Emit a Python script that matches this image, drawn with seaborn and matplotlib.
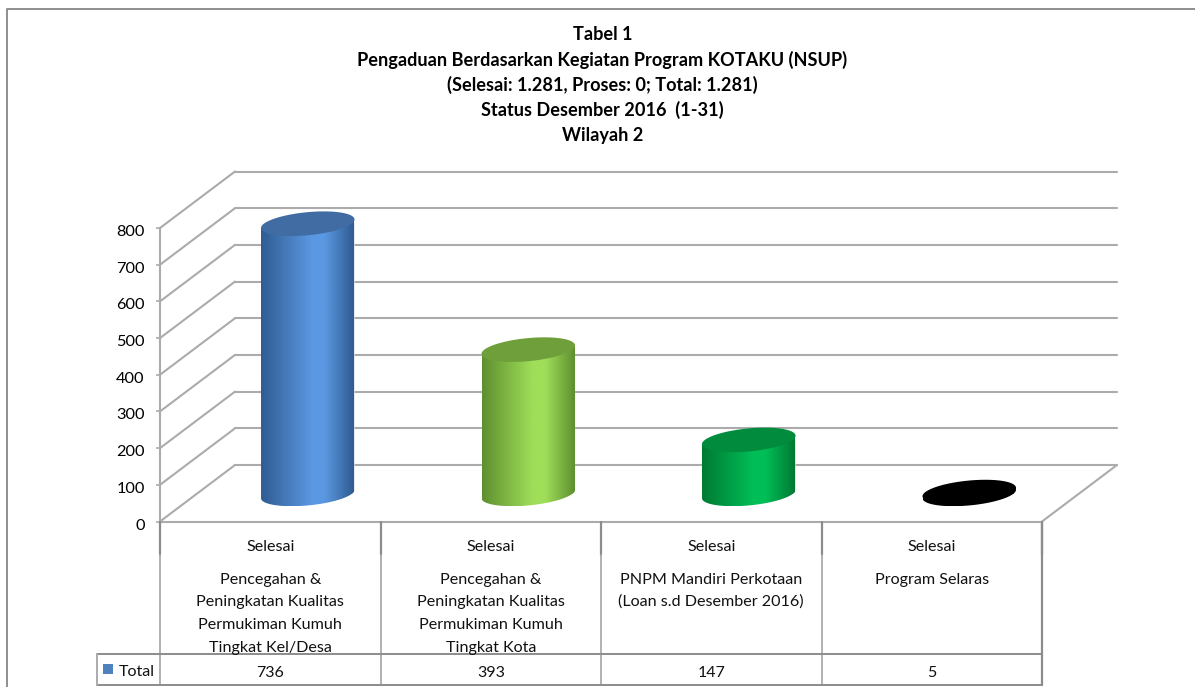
import matplotlib
matplotlib.use("Agg")
import matplotlib.pyplot as plt
from matplotlib.colors import LinearSegmentedColormap
from matplotlib.lines import Line2D
from matplotlib.patches import ConnectionPatch, Polygon, Rectangle
from matplotlib.transforms import ScaledTranslation
import numpy as np
import pandas as pd
import seaborn as sns

title_lines = ["Tabel 1",
               "Pengaduan Berdasarkan Kegiatan Program KOTAKU (NSUP)",
               "(Selesai: 1.281, Proses: 0; Total: 1.281)",
               "Status Desember 2016  (1-31)",
               "Wilayah 2"]
categories = ["Pencegahan & Tingkat Kel/Desa", "Pencegahan & Tingkat Kota",
              "PNPM Mandiri Perkotaan", "Program Selaras"]
status_labels = ["Selesai", "Selesai", "Selesai", "Selesai"]
table_labels = [["Pencegahan &", "Peningkatan Kualitas", "Permukiman Kumuh", "Tingkat Kel/Desa"],
                ["Pencegahan &", "Peningkatan Kualitas", "Permukiman Kumuh", "Tingkat Kota"],
                ["PNPM Mandiri Perkotaan", "(Loan s.d Desember 2016)"],
                ["Program Selaras"]]
totals = [736, 393, 147, 5]
y_ticks = [0, 100, 200, 300, 400, 500, 600, 700, 800]
top_colors = ["#416CA3", "#6F9F3A", "#008C3C", "#000000"]
edge_colors = ["#2F5C92", "#5F8F30", "#007A33", "#000000"]
light_colors = ["#5B98E2", "#9FDE59", "#00BE57", "#000000"]

W, H = 1195, 687
GRID = "#ABABAB"
LINE = "#8C8C8C"
sns.set_theme(style="white")
plt.rcParams["font.family"] = ["Lato", "DejaVu Sans"]


def add_axes_px(fig, left, right, top, bottom, zorder):
    """ Axes placed by reference pixels """
    ax = fig.add_axes([left / W, 1 - bottom / H, (right - left) / W, (bottom - top) / H])
    ax.set_zorder(zorder)
    ax.patch.set_alpha(0)
    return ax


def ellipse_px(n=80):
    """ Tilted ellipse outline of a cylinder end, pixel offsets from its centre """
    t = np.linspace(0, 2 * np.pi, n)
    a, b, tilt = 47.0, 11.5, np.deg2rad(5.5)
    dx = a * np.cos(t) * np.cos(tilt) - b * np.sin(t) * np.sin(tilt)
    dy = -(a * np.cos(t) * np.sin(tilt) + b * np.sin(t) * np.cos(tilt))
    return t, dx, dy


df = pd.DataFrame({"kategori": categories, "total": totals})
fig = plt.figure(figsize=(W / 100, H / 100), dpi=100, facecolor="white")

# chart frame
fig.add_artist(Line2D([7 / W, 7 / W, 1], [0, 1 - 9 / H, 1 - 9 / H],
                      color="#8E8E8E", lw=1.4))

# back wall
back = add_axes_px(fig, 235, 1117, 171.5, 465, 1)
back.set_xlim(-0.5, 3.5)
back.set_ylim(0, 800)
back.set_yticks(y_ticks)
back.set_xticks([])
back.set_yticklabels([])
back.grid(axis="y", color=GRID, lw=1.5, clip_on=False)
back.tick_params(left=False)
sns.despine(ax=back, left=True, bottom=True)
for gridline in back.get_ygridlines():
    gridline.set_clip_on(False)

# front plane with the value axis
front = add_axes_px(fig, 160, 1042, 228, 521.5, 3)
front.set_xlim(-0.5, 3.5)
front.set_ylim(0, 800)
front.set_yticks(y_ticks)
front.set_xticks([])
front.tick_params(axis="y", left=True, length=3, width=1.2, color=GRID, pad=8,
                  labelsize=11.8, labelcolor="black")
for label in front.get_yticklabels():
    label.set_transform(label.get_transform() + ScaledTranslation(0, -2.5 / 100, fig.dpi_scale_trans))
sns.despine(ax=front, right=True, top=True)
for side in ["left", "bottom"]:
    front.spines[side].set_color(GRID)
    front.spines[side].set_linewidth(1.5)

# lines joining front plane and back wall
for v in y_ticks:
    back.add_artist(ConnectionPatch((-0.5, v), (-0.5, v), coordsA=front.transData,
                                    coordsB=back.transData, color=GRID, lw=1.5))
back.add_artist(ConnectionPatch((3.5, 0), (3.5, 0), coordsA=front.transData,
                                coordsB=back.transData, color=GRID, lw=1.5))

# cylinders stand half way between front and back
mid = add_axes_px(fig, 197.5, 1079.5, 200.2, 493.9, 2)
sns.barplot(data=df, x="kategori", y="total", hue="kategori", palette=edge_colors,
            width=0.42, legend=False, saturation=1, ax=mid)
mid.set_axis_off()

x_per_px = 4 / 882
y_per_px = 800 / 293.7
t, ex, ey = ellipse_px()
for bar, total, top_c, edge_c, light_c in zip(mid.patches, totals, top_colors, edge_colors, light_colors):
    xc = bar.get_x() + bar.get_width() / 2
    hw = bar.get_width() / 2
    cmap = LinearSegmentedColormap.from_list(
        "side", [(0, edge_c), (0.55, light_c), (0.68, light_c), (1, edge_c)])
    top_pts = np.column_stack([xc + ex * x_per_px, total - ey * y_per_px])
    left_end = top_pts[np.argmin(top_pts[:, 0])]
    right_end = top_pts[np.argmax(top_pts[:, 0])]
    # outline: lower half of the base ellipse, closed across the top end
    lower = t >= np.pi
    base_pts = np.column_stack([xc + ex[lower] * x_per_px, -ey[lower] * y_per_px])
    base_pts = base_pts[np.argsort(base_pts[:, 0])]
    side = Polygon(np.vstack([base_pts, right_end, left_end]), closed=True,
                   transform=mid.transData, fc="none", ec="none")
    mid.add_patch(side)
    bar.set_clip_path(side)
    img = mid.imshow(np.linspace(0, 1, 256).reshape(1, -1), cmap=cmap, aspect="auto",
                     extent=[xc - hw, xc + hw, base_pts[:, 1].min(), top_pts[:, 1].max()],
                     zorder=3)
    img.set_clip_box(fig.bbox)
    img.set_clip_path(side)
    mid.add_patch(Polygon(top_pts, closed=True, fc=top_c, ec="none", zorder=4, clip_on=False))
mid.set_xlim(-0.5, 3.5)
mid.set_ylim(0, 800)

# data table under the chart, y runs in pixels
table = add_axes_px(fig, 160, 1042, 521.5, 685, 4)
table.set_xlim(-0.5, 3.5)
table.set_ylim(685, 521.5)
table.set_axis_off()
for x in range(5):
    edge = x - 0.5
    table.plot([edge, edge], [521.5, 555], color=LINE, lw=1.6, clip_on=False)
    table.plot([edge, edge], [555, 685], color=GRID, lw=1.3, clip_on=False)
table_left = -0.5 - 63 * x_per_px
for y in [654, 685]:
    table.plot([table_left, 3.5], [y, y], color=LINE, lw=1.4, clip_on=False)
table.plot([table_left, table_left], [654, 685], color=GRID, lw=1.4, clip_on=False)
table.plot([3.5, 3.5], [521.5, 685], color=LINE, lw=1.6, clip_on=False)

line_y = [579.5, 601.5, 624.5, 647.5]
for i, (status, lines, total) in enumerate(zip(status_labels, table_labels, totals)):
    table.text(i, 546.5, status, ha="center", va="center", fontsize=11.6, color="#111111")
    for y, line in zip(line_y, lines):
        table.text(i, y, line, ha="center", va="center", fontsize=11.6, color="#111111")
    table.text(i, 672.5, str(total), ha="center", va="center", fontsize=11.5, color="#111111")
table.add_patch(Rectangle((-0.5 - 57 * x_per_px, 664), 10 * x_per_px, 10,
                          fc="#4F81BD", ec="none", clip_on=False))
table.text(-0.5 - 41.5 * x_per_px, 671.5, "Total", ha="left", va="center", fontsize=11.6,
           color="#111111", clip_on=False)

# title block
for y, line in zip([35, 60, 85, 110, 135], title_lines):
    fig.text(602.5 / W, 1 - y / H, line, ha="center", va="center", fontsize=13.1,
             fontweight="bold", color="black")

fig.savefig("out.png", dpi=100)
